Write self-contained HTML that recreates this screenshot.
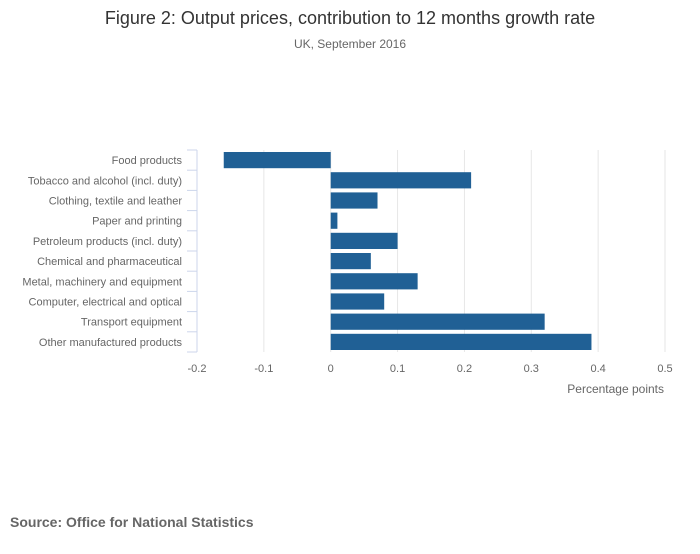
<!DOCTYPE html>
<html><head><meta charset="utf-8"><style>
body{margin:0;background:#fff;font-family:"Liberation Sans","DejaVu Sans",sans-serif;}
svg text{font-family:"Liberation Sans","DejaVu Sans",sans-serif;}
</style></head><body>
<svg id="chart" width="700" height="549">
<text x="350" y="24" text-anchor="middle" font-size="18" fill="#333">Figure 2: Output prices, contribution to 12 months growth rate</text>
<text x="350" y="48" text-anchor="middle" font-size="12" fill="#666">UK, September 2016</text>
<g id="grid"></g><g id="bars"></g><g id="yaxis"></g><g id="xaxis"></g>
<text x="664" y="393" text-anchor="end" font-size="12" fill="#666">Percentage points</text>
<text x="10" y="527" font-size="14" font-weight="bold" fill="#666">Source: Office for National Statistics</text>
</svg>
<script>
const categories=["Food products","Tobacco and alcohol (incl. duty)","Clothing, textile and leather","Paper and printing","Petroleum products (incl. duty)","Chemical and pharmaceutical","Metal, machinery and equipment","Computer, electrical and optical","Transport equipment","Other manufactured products"];
const values=[-0.16,0.21,0.07,0.01,0.10,0.06,0.13,0.08,0.32,0.39];
const xTicks=[-0.2,-0.1,0,0.1,0.2,0.3,0.4,0.5];
const NS="http://www.w3.org/2000/svg";
const x0=197,x1=665,vmin=-0.2,vmax=0.5,yTop=150,yBottom=352;
const xs=v=>x0+(v-vmin)/(vmax-vmin)*(x1-x0);
const rh=(yBottom-yTop)/categories.length;
function mk(t,a,p){const e=document.createElementNS(NS,t);for(const k in a)e.setAttribute(k,a[k]);p.appendChild(e);return e;}
const grid=document.getElementById('grid'),bars=document.getElementById('bars'),ya=document.getElementById('yaxis'),xa=document.getElementById('xaxis');
xTicks.forEach(t=>{
 if(t!==vmin){const l=mk('line',{x1:xs(t),x2:xs(t),y1:yTop,y2:yBottom,stroke:'#e6e6e6','stroke-width':1},grid);
 
 }
 const tx=mk('text',{x:xs(t),y:372,'text-anchor':'middle','font-size':11,fill:'#666'},xa);
 tx.textContent=String(t);
 
 
});
const ax=mk('line',{x1:x0,x2:x0,y1:yTop,y2:yBottom,stroke:'#ccd6eb','stroke-width':1},ya);


for(let i=0;i<=categories.length;i++){
 const y=yTop+i*rh;
 const tk=mk('line',{x1:187,x2:x0,y1:y,y2:y,stroke:'#ccd6eb','stroke-width':1},ya);
 
 
}
categories.forEach((c,i)=>{
 const y=yTop+i*rh;
 const lb=mk('text',{x:182,y:y+rh/2+4,'text-anchor':'end','font-size':11,fill:'#666'},ya);
 lb.textContent=c;
 
 
 const v=values[i];
 const a=xs(Math.min(0,v)),b=xs(Math.max(0,v));
 const r=mk('rect',{x:a,y:y+2,width:b-a,height:rh-4,fill:'#206095'},bars);
 
 
});
</script>
</body></html>
